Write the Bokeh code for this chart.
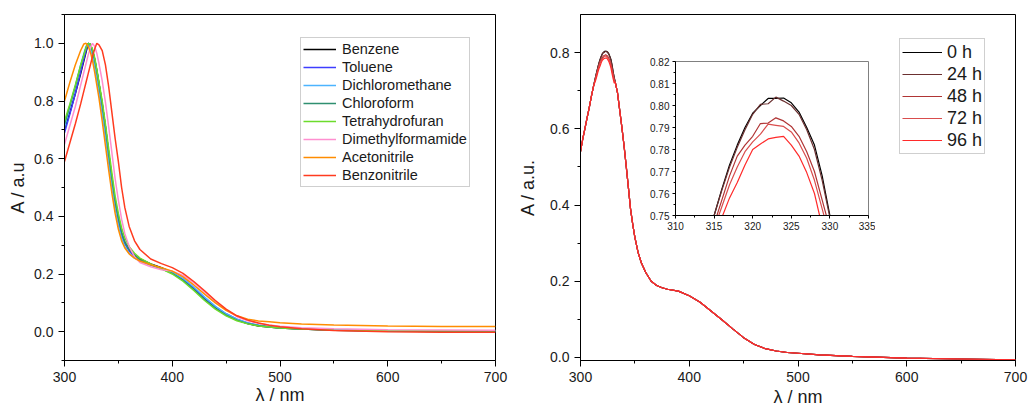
from bokeh.plotting import figure
from bokeh.models import (GridBox, FixedTicker, PrintfTickFormatter, Legend, LegendItem)
from bokeh.embed import file_html
from bokeh.resources import INLINE

FONT = "Liberation Sans"

# ---------------- left panel data (normalised absorbance) ----------------
wavelength = [300, 305, 310, 315, 318, 320, 322, 324, 326, 328, 330, 332, 335, 338, 341, 344,
              347, 350, 353, 356, 360, 365, 370, 380, 390, 400, 410, 420, 430, 440, 450, 460,
              470, 480, 490, 500, 520, 550, 600, 650, 700]

solvents = ["Benzene", "Toluene", "Dichloromethane", "Chloroform", "Tetrahydrofuran",
            "Dimethylformamide", "Acetonitrile", "Benzonitrile"]
solvent_colors = ["#000000", "#3d3dff", "#4cb4ff", "#2f8f70", "#6cdc2c", "#ff8fd0",
                  "#ff8c00", "#ff3b1f"]

benzene = [0.70, 0.76, 0.825, 0.895, 0.94, 0.97, 1.0, 0.997, 0.975, 0.945, 0.905, 0.86, 0.79,
           0.71, 0.62, 0.53, 0.45, 0.39, 0.34, 0.31, 0.285, 0.265, 0.252, 0.235, 0.222, 0.205,
           0.18, 0.148, 0.113, 0.083, 0.058, 0.04, 0.028, 0.02, 0.016, 0.013, 0.009, 0.005,
           0.002, 0.001, 0.0]
toluene = [0.69, 0.755, 0.825, 0.90, 0.945, 0.975, 1.0, 0.995, 0.97, 0.94, 0.895, 0.85, 0.78,
           0.70, 0.61, 0.52, 0.44, 0.38, 0.335, 0.305, 0.28, 0.26, 0.248, 0.232, 0.22, 0.205,
           0.182, 0.152, 0.118, 0.087, 0.062, 0.043, 0.03, 0.022, 0.017, 0.014, 0.01, 0.006,
           0.003, 0.002, 0.001]
dichloromethane = [0.71, 0.78, 0.85, 0.925, 0.965, 0.99, 1.0, 0.985, 0.955, 0.92, 0.875, 0.83,
                   0.755, 0.675, 0.59, 0.505, 0.43, 0.37, 0.325, 0.295, 0.272, 0.255, 0.245,
                   0.23, 0.218, 0.205, 0.185, 0.155, 0.12, 0.088, 0.062, 0.043, 0.03, 0.022,
                   0.017, 0.014, 0.01, 0.006, 0.003, 0.002, 0.002]
chloroform = [0.72, 0.785, 0.85, 0.92, 0.96, 0.985, 1.0, 0.995, 0.975, 0.945, 0.905, 0.86, 0.79,
              0.71, 0.62, 0.535, 0.455, 0.395, 0.345, 0.31, 0.285, 0.265, 0.25, 0.232, 0.218,
              0.202, 0.178, 0.146, 0.111, 0.081, 0.057, 0.04, 0.028, 0.021, 0.016, 0.013, 0.009,
              0.005, 0.003, 0.002, 0.002]
tetrahydrofuran = [0.73, 0.79, 0.855, 0.925, 0.96, 0.985, 1.0, 0.997, 0.98, 0.95, 0.91, 0.865,
                   0.80, 0.72, 0.635, 0.55, 0.47, 0.41, 0.36, 0.325, 0.295, 0.272, 0.255, 0.235,
                   0.218, 0.2, 0.175, 0.143, 0.108, 0.078, 0.055, 0.038, 0.027, 0.02, 0.016,
                   0.013, 0.009, 0.006, 0.004, 0.003, 0.003]
dimethylformamide = [0.65, 0.715, 0.78, 0.855, 0.9, 0.93, 0.96, 0.985, 1.0, 0.99, 0.965, 0.93,
                     0.87, 0.795, 0.71, 0.62, 0.53, 0.455, 0.39, 0.34, 0.295, 0.26, 0.24, 0.225,
                     0.215, 0.21, 0.195, 0.17, 0.138, 0.105, 0.075, 0.052, 0.038, 0.029, 0.023,
                     0.019, 0.014, 0.01, 0.007, 0.006, 0.005]
acetonitrile = [0.80, 0.865, 0.925, 0.975, 0.998, 1.0, 0.99, 0.97, 0.94, 0.9, 0.855, 0.81, 0.73,
                0.645, 0.56, 0.48, 0.41, 0.355, 0.315, 0.29, 0.27, 0.255, 0.245, 0.232, 0.222,
                0.21, 0.19, 0.162, 0.13, 0.1, 0.074, 0.055, 0.043, 0.037, 0.034, 0.031, 0.027,
                0.023, 0.02, 0.018, 0.018]
benzonitrile = [0.59, 0.655, 0.72, 0.79, 0.835, 0.865, 0.895, 0.925, 0.955, 0.98, 1.0, 0.995,
                0.975, 0.925, 0.85, 0.76, 0.67, 0.59, 0.50, 0.43, 0.365, 0.315, 0.285, 0.252,
                0.236, 0.222, 0.202, 0.174, 0.142, 0.108, 0.078, 0.055, 0.04, 0.03, 0.022, 0.017,
                0.01, 0.004, 0.0, -0.002, -0.002]
solvent_series = [benzene, toluene, dichloromethane, chloroform, tetrahydrofuran,
                  dimethylformamide, acetonitrile, benzonitrile]

# ---------------- right panel data (time series) ----------------
times = ["0 h", "24 h", "48 h", "72 h", "96 h"]
time_colors = ["#000000", "#6b3030", "#b03535", "#d94d4d", "#ff2a2a"]

wl_low = [300, 302, 304, 306, 308, 310, 312]
abs_low = [0.54, 0.572, 0.60, 0.628, 0.655, 0.685, 0.712]
wl_high = [332, 334, 336, 338, 340, 342, 344, 346, 348, 350, 353, 356, 360, 365, 370, 375, 380,
           390, 400, 410, 420, 430, 440, 450, 460, 470, 480, 490, 500, 520, 550, 600, 650, 700]
abs_high = [0.722, 0.695, 0.65, 0.605, 0.557, 0.503, 0.447, 0.39, 0.35, 0.315, 0.275, 0.248,
            0.223, 0.20, 0.189, 0.183, 0.179, 0.174, 0.162, 0.145, 0.122, 0.099, 0.075, 0.052,
            0.034, 0.023, 0.017, 0.013, 0.011, 0.007, 0.003, -0.002, -0.004, -0.006]

wl_peak = [314, 315, 316, 317, 318, 319, 320, 321, 322, 323, 324, 325, 326, 327, 328, 329, 330, 331]
peak_0h = [0.738, 0.750, 0.762, 0.773, 0.782, 0.790, 0.7965, 0.800, 0.8032, 0.8032, 0.8034,
           0.8012, 0.797, 0.790, 0.782, 0.768, 0.750, 0.735]
peak_24h = [0.738, 0.750, 0.7615, 0.772, 0.781, 0.789, 0.796, 0.8005, 0.8008, 0.8038, 0.802,
            0.800, 0.796, 0.789, 0.780, 0.766, 0.749, 0.734]
peak_48h = [0.735, 0.746, 0.757, 0.768, 0.777, 0.782, 0.786, 0.7918, 0.792, 0.7944, 0.793,
            0.7905, 0.786, 0.779, 0.770, 0.757, 0.744, 0.730]
peak_72h = [0.733, 0.744, 0.754, 0.764, 0.772, 0.779, 0.7835, 0.787, 0.7915, 0.791, 0.7905,
            0.788, 0.783, 0.776, 0.766, 0.753, 0.740, 0.727]
peak_96h = [0.728, 0.738, 0.749, 0.758, 0.765, 0.773, 0.780, 0.7825, 0.7848, 0.7855, 0.786,
            0.782, 0.777, 0.7695, 0.760, 0.745, 0.732, 0.720]
peak_series = [peak_0h, peak_24h, peak_48h, peak_72h, peak_96h]


def style_axes(p, xt, xm, yt, ym, yfmt, xfmt="%d", size="14px", tick_out=6, minor_out=3,
               standoff=5):
    p.xaxis.ticker = FixedTicker(ticks=xt, minor_ticks=xm)
    p.yaxis.ticker = FixedTicker(ticks=yt, minor_ticks=ym)
    p.xaxis.formatter = PrintfTickFormatter(format=xfmt)
    p.yaxis.formatter = PrintfTickFormatter(format=yfmt)
    for ax in (p.xaxis, p.yaxis):
        ax.major_label_text_font = FONT
        ax.major_label_text_font_size = size
        ax.major_label_text_color = "#1a1a1a"
        ax.axis_line_color = "black"
        ax.major_tick_line_color = "black"
        ax.minor_tick_line_color = "black"
        ax.major_tick_out = tick_out
        ax.major_tick_in = 0
        ax.minor_tick_out = minor_out
        ax.minor_tick_in = 0
        ax.major_label_standoff = standoff
    p.grid.visible = False


def axis_titles(p, xlabel, ylabel, xstand, ystand, size="18px"):
    p.xaxis.axis_label = xlabel
    p.yaxis.axis_label = ylabel
    for ax, st in ((p.xaxis, xstand), (p.yaxis, ystand)):
        ax.axis_label_text_font = FONT
        ax.axis_label_text_font_size = size
        ax.axis_label_text_font_style = "normal"
        ax.axis_label_text_color = "#1a1a1a"
        ax.axis_label_standoff = st


# ---------------- left figure ----------------
p1 = figure(width=515, height=418, x_range=(300, 700), y_range=(-0.1, 1.1),
            output_backend="svg", toolbar_location=None,
            min_border_left=64, min_border_right=20, min_border_top=14, min_border_bottom=58)
p1.outline_line_color = "black"
p1.outline_line_width = 1
style_axes(p1, [300, 400, 500, 600, 700], [350, 450, 550, 650],
           [0.0, 0.2, 0.4, 0.6, 0.8, 1.0], [-0.1, 0.1, 0.3, 0.5, 0.7, 0.9, 1.1], "%.1f")
axis_titles(p1, "λ / nm", "A / a.u", 0, 3)

items = []
for name, col, ys in zip(solvents, solvent_colors, solvent_series):
    r = p1.line(wavelength, ys, line_color=col, line_width=1.5)
    items.append(LegendItem(label=name, renderers=[r]))
leg1 = Legend(items=items, location=(236, 173), margin=0, padding=2, spacing=0,
              label_height=18, glyph_height=18, glyph_width=33, label_standoff=6,
              label_text_font=FONT, label_text_font_size="14.5px", label_text_color="#1a1a1a",
              border_line_color="#a0a0a0", border_line_width=1, background_fill_color="white")
p1.add_layout(leg1)

# ---------------- right figure ----------------
p2 = figure(width=515, height=418, x_range=(300, 700), y_range=(-0.008, 0.9),
            output_backend="svg", toolbar_location=None,
            min_border_left=63, min_border_right=15, min_border_top=13, min_border_bottom=54)
p2.outline_line_color = "black"
style_axes(p2, [300, 400, 500, 600, 700], [350, 450, 550, 650],
           [0.0, 0.2, 0.4, 0.6, 0.8], [0.1, 0.3, 0.5, 0.7], "%.1f")
axis_titles(p2, "λ / nm", "A / a.u.", 2, 9)

items2 = []
for name, col, pk in zip(times, time_colors, peak_series):
    xs = wl_low + wl_peak + wl_high
    ys = abs_low + pk + abs_high
    r = p2.line(xs, ys, line_color=col, line_width=1.2)
    items2.append(LegendItem(label=name, renderers=[r]))
leg2 = Legend(items=items2, location=(319, 206), margin=0, padding=2, spacing=0,
              label_height=22, glyph_height=22, glyph_width=40, label_standoff=5,
              label_text_font=FONT, label_text_font_size="18px", label_text_color="#1a1a1a",
              border_line_color="#a0a0a0", border_line_width=1, background_fill_color="white")
p2.add_layout(leg2)

# ---------------- inset ----------------
p3 = figure(width=235, height=188, x_range=(310, 335), y_range=(0.75, 0.82),
            output_backend="svg", toolbar_location=None,
            min_border_left=35, min_border_right=7, min_border_top=9, min_border_bottom=25)
p3.outline_line_color = "#808080"
p3.border_fill_alpha = 0
p3.background_fill_color = "white"
style_axes(p3, [310, 315, 320, 325, 330, 335], [312.5, 317.5, 322.5, 327.5, 332.5],
           [0.75, 0.76, 0.77, 0.78, 0.79, 0.80, 0.81, 0.82],
           [0.755, 0.765, 0.775, 0.785, 0.795, 0.805, 0.815], "%.2f",
           size="10px", tick_out=3, minor_out=2, standoff=3)
for col, pk in zip(time_colors, peak_series):
    p3.line(wl_peak, pk, line_color=col, line_width=1.2)

layout = GridBox(children=[(p1, 0, 0, 3, 1), (p2, 0, 1, 3, 3), (p3, 1, 2, 1, 1)],
                 rows=["52px", "188px", "178px"],
                 cols=["515px", "125px", "235px", "155px"])

open("out.html", "w").write(file_html(layout, INLINE))
